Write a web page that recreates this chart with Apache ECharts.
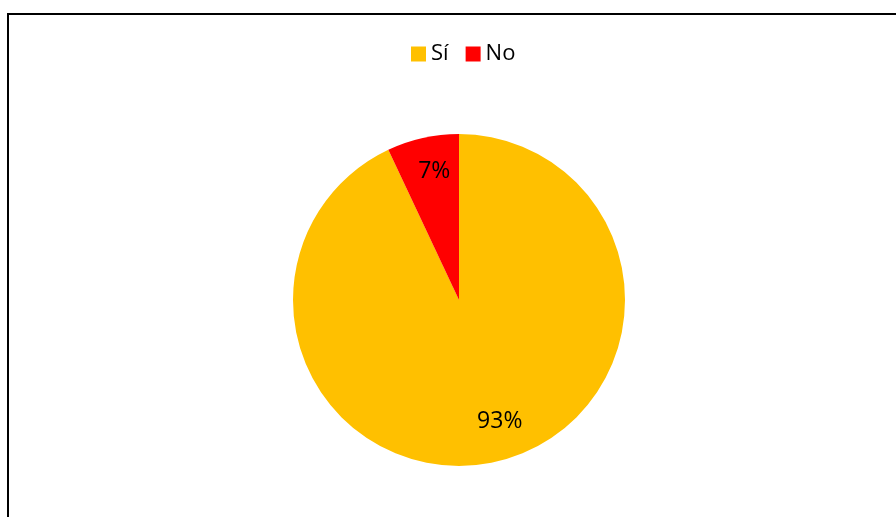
<!DOCTYPE html>
<html>
<head>
<meta charset="utf-8">
<script src="https://cdn.jsdelivr.net/npm/echarts@6/dist/echarts.min.js"></script>
<style>
  html, body { margin: 0; padding: 0; background: #fff; }
  #chart { width: 896px; height: 517px; }
</style>
</head>
<body>
<div id="chart"></div>
<script>
// Answer categories and their shares (percent)
const categories = ['Sí', 'No'];
const shares = [93, 7];
const sliceColors = ['#FFC000', '#FF0000'];
// Nudges for the in-slice percentage labels
const labelOffsets = [[22, 38], [-6, -45]];

const chart = echarts.init(document.getElementById('chart'), null, { renderer: 'canvas' });

const pieData = categories.map((name, i) => ({
  name: name,
  value: shares[i],
  itemStyle: { color: sliceColors[i] },
  label: { offset: labelOffsets[i] }
}));

chart.setOption({
  animation: false,
  backgroundColor: '#ffffff',
  graphic: [{
    type: 'rect',
    shape: { x: 8, y: 14, width: 1200, height: 1200 },
    style: { fill: 'none', stroke: '#000000', lineWidth: 2 },
    silent: true
  }],
  legend: {
    data: categories,
    top: 43,
    left: 411,
    padding: 0,
    icon: 'rect',
    itemWidth: 15,
    itemHeight: 15,
    itemGap: 17,
    textStyle: { fontFamily: 'Open Sans', fontSize: 22, color: '#000000' }
  },
  series: [{
    type: 'pie',
    center: [459, 300],
    radius: [0, 166],
    startAngle: 90,
    clockwise: true,
    data: pieData,
    label: {
      show: true,
      position: 'inside',
      formatter: '{c}%',
      fontFamily: 'Open Sans',
      fontSize: 23,
      color: '#000000'
    },
    labelLine: { show: false },
    emphasis: { disabled: true },
    itemStyle: { borderWidth: 0 }
  }]
});
</script>
</body>
</html>
